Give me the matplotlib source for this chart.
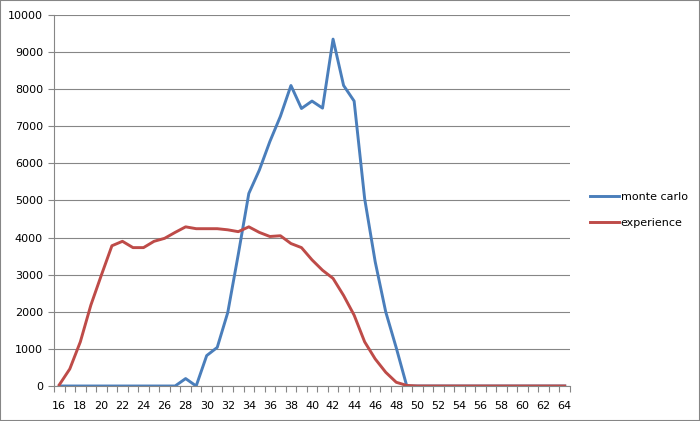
"""Monte carlo vs experience distribution, Excel-style line chart."""

import matplotlib

matplotlib.use("Agg")
import matplotlib.pyplot as plt
from matplotlib.patches import Rectangle
from matplotlib.ticker import MultipleLocator

categories = list(range(16, 65))
tick_labels = [str(c) for c in range(16, 65, 2)]

monte_carlo = [
    0, 0, 0, 0, 0, 0, 0, 0, 0, 0, 0, 0,            # 16-27
    200, 0, 820, 1040, 1980, 3550, 5190, 5820,     # 28-35
    6590, 7270, 8100, 7480, 7680, 7490, 9350,      # 36-42
    8100, 7680, 5050, 3350, 2000, 1030, 0,         # 43-49
    0, 0, 0, 0, 0, 0, 0, 0, 0, 0, 0, 0, 0, 0, 0,   # 50-64
]
experience = [
    30, 460, 1190, 2180, 2990, 3780, 3900, 3730,   # 16-23
    3730, 3900, 3980, 4140, 4290, 4240, 4240,      # 24-30
    4240, 4210, 4160, 4290, 4140, 4030, 4050,      # 31-37
    3840, 3730, 3400, 3120, 2900, 2440, 1910,      # 38-44
    1190, 730, 370, 100, 15,                       # 45-49
    0, 0, 0, 0, 0, 0, 0, 0, 0, 0, 0, 0, 0, 0, 0,   # 50-64
]

BLUE = "#4a7ebb"
RED = "#be4b48"
GRID = "#868686"

plt.rcParams["font.family"] = "DejaVu Sans"
plt.rcParams["font.size"] = 8

fig = plt.figure(figsize=(7.0, 4.21), dpi=100)
ax = fig.add_axes([54 / 700, 35 / 421, 516 / 700, 371 / 421])

ax.plot(categories, monte_carlo, color=BLUE, lw=2.1, label="monte carlo", solid_joinstyle="round")
ax.plot(categories, experience, color=RED, lw=2.1, label="experience", solid_joinstyle="round")

ax.set_xlim(categories[0] - 0.5, categories[-1] + 0.5)
ax.set_ylim(0, 10000)
ax.yaxis.set_major_locator(MultipleLocator(1000))
ax.grid(axis="y", color=GRID, lw=0.8)
ax.set_axisbelow(True)

ax.set_xticks(range(16, 65, 2))
ax.set_xticklabels(tick_labels)
ax.set_xticks([c - 0.5 for c in categories] + [categories[-1] + 0.5], minor=True)
ax.tick_params(axis="x", which="major", length=0, pad=11)
ax.tick_params(axis="x", which="minor", length=4, color=GRID, width=0.8)
ax.tick_params(axis="y", length=4, color=GRID, width=0.8, pad=4)

for side in ("top", "right"):
    ax.spines[side].set_visible(False)
for side in ("left", "bottom"):
    ax.spines[side].set_color(GRID)
    ax.spines[side].set_linewidth(0.8)

fig.legend(loc="center left", bbox_to_anchor=(580 / 700, 1 - 210 / 421),
           frameon=False, handlelength=2.6, handletextpad=0.15, labelspacing=1.4,
           fontsize=8)

fig.patches.append(Rectangle((0, 0), 1, 1, transform=fig.transFigure, fill=False,
                             edgecolor=GRID, lw=1.5))

fig.savefig("out.png", dpi=100)
